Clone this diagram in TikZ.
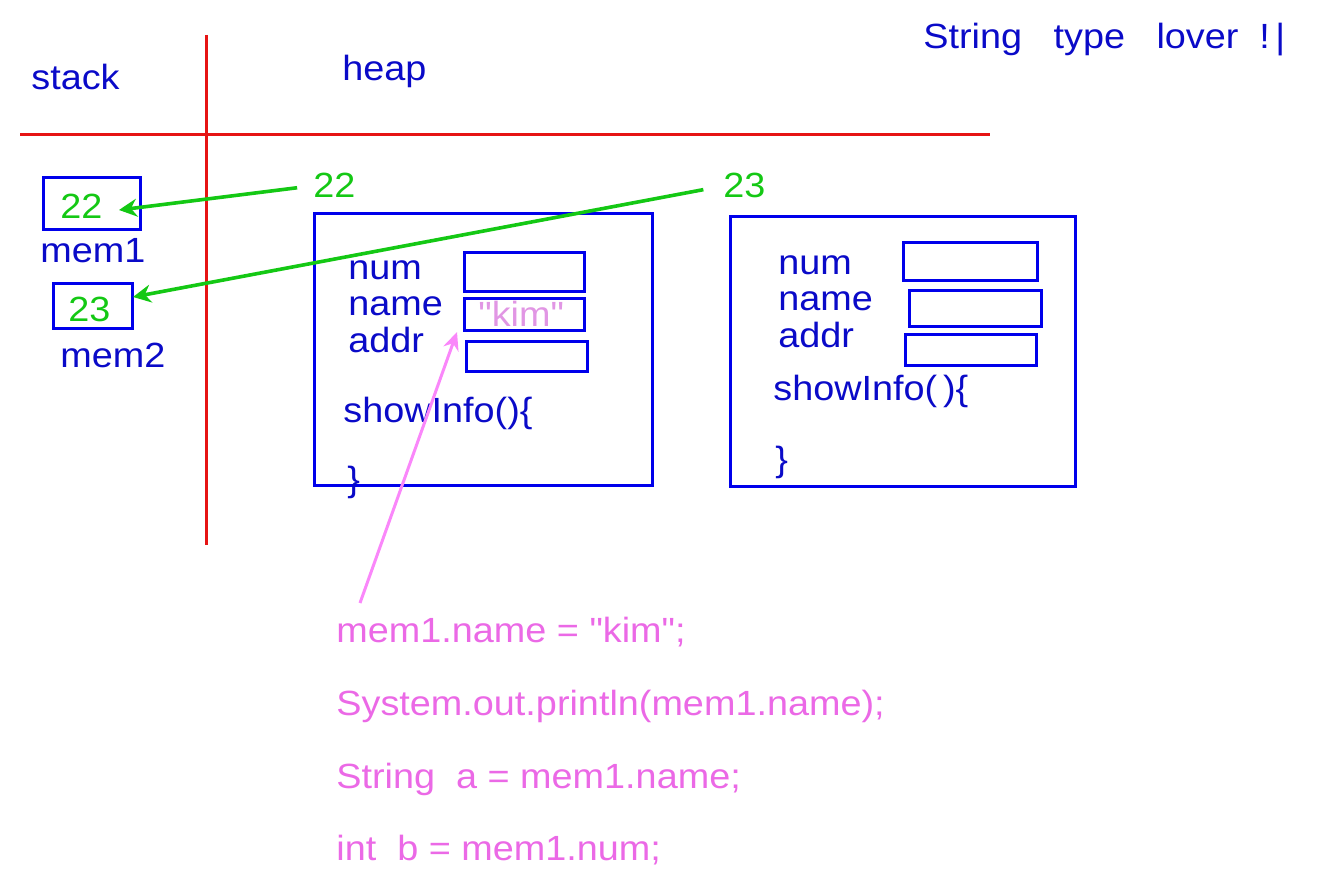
\documentclass[tikz,border=0pt]{standalone}
\usepackage{fontspec}
\newfontfamily\gulimish{Liberation Sans}[FakeStretch=1.08]
\usetikzlibrary{arrows.meta}
\definecolor{inkblue}{RGB}{10,10,200}
\definecolor{boxblue}{RGB}{0,0,235}
\definecolor{linered}{RGB}{230,20,20}
\definecolor{ptrgreen}{RGB}{20,200,20}
\definecolor{codepink}{RGB}{235,105,230}
\definecolor{arrowpink}{RGB}{250,135,250}
\definecolor{kimpink}{RGB}{225,150,228}
\tikzset{
	txt/.style={anchor=base west, inner sep=0pt, text=inkblue, font=\gulimish\fontsize{17.5}{21}\selectfont},
	greentxt/.style={txt, text=ptrgreen},
	codetxt/.style={txt, text=codepink},
	membox/.style={draw=boxblue, line width=1.5pt},
	divider/.style={draw=linered, line width=1.5pt},
	ptr/.style={draw=ptrgreen, line width=1.8pt, -{Stealth[length=9pt,width=9pt,inset=3pt]}},
	kimptr/.style={draw=arrowpink, line width=1.5pt, -{Stealth[length=9pt,width=8pt,inset=3pt]}}
}

\begin{document}
\begin{tikzpicture}[x=0.5pt, y=-0.5pt]
			%%%%% START %%%%%
			\useasboundingbox (0,0) rectangle (1336,893);
			
			\draw[divider] (20,135) -- (990,135);
			\draw[divider] (206,35) -- (206,545);
			
			\node[txt] (stack) at (31,90) {stack};
			\node[txt] (heap) at (342,81) {heap};
			\node[txt] (title) at (923,49) {String\hspace{0.9em}type\hspace{0.9em}lover\hspace{0.6em}!\hspace{0.15em}|};
			
			% stack cells
			\draw[membox] (43,178) rectangle (140,229);
			\node[greentxt] (val22) at (60,219) {22};
			\node[txt] (mem1) at (40,262) {mem1};
			
			\draw[membox] (53,283) rectangle (132,328);
			\node[greentxt] (val23) at (68,321) {23};
			\node[txt] (mem2) at (60,367) {mem2};
			
			% object at 22
			\node[greentxt] (ref22) at (313,198) {22};
			\draw[membox] (314,213) rectangle (652,485);
			\node[txt] (num1) at (348,279) {num};
			\node[txt] (name1) at (348,315) {name};
			\node[txt] (addr1) at (348,352) {addr};
			\draw[membox] (464,252) rectangle (584,291);
			\draw[membox] (464,298) rectangle (584,330);
			\draw[membox] (466,341) rectangle (587,371);
			\node[txt, text=kimpink] (kim) at (478,326) {"kim"};
			\node[txt] (show1) at (343,422) {showInfo()\{};
			\node[txt] (close1) at (347,491) {\}};
			
			% object at 23
			\node[greentxt] (ref23) at (723,198) {23};
			\draw[membox] (730,216) rectangle (1075,486);
			\node[txt] (num2) at (778,274) {num};
			\node[txt] (name2) at (778,310) {name};
			\node[txt] (addr2) at (778,347) {addr};
			\draw[membox] (903,242) rectangle (1037,280);
			\draw[membox] (909,290) rectangle (1041,326);
			\draw[membox] (905,334) rectangle (1036,365);
			\node[txt] (show2) at (773,400) {showInfo(\,)\{};
			\node[txt] (close2) at (775,471) {\}};
			
			% code
			\node[codetxt] (code1) at (336,642) {mem1.name = "kim";};
			\node[codetxt] (code2) at (336,715) {System.out.println(mem1.name);};
			\node[codetxt] (code3) at (336,788) {String\ \ a = mem1.name;};
			\node[codetxt] (code4) at (336,860) {int\ \ b = mem1.num;};
			
			% pointers
			\coordinate (tip22) at (119,210);
			\coordinate (tip23) at (133,297);
			\coordinate (kimfrom) at (360,603);
			\coordinate (kimto) at (457,332);
			\draw[ptr, shorten <=8pt] (ref22.west) -- (tip22);
			\draw[ptr, shorten <=10pt] (ref23.west) -- (tip23);
			\draw[kimptr] (kimfrom) -- (kimto);
			
			%%%%% END %%%%%
\end{tikzpicture}
\end{document}
